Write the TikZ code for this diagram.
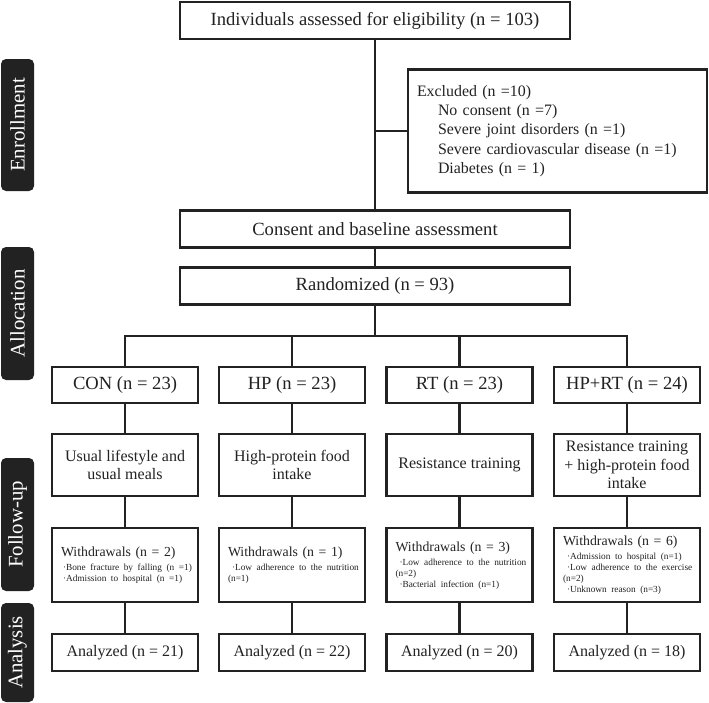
\documentclass[tikz,border=0pt]{standalone}
\usepackage{fontspec}
\setmainfont{Liberation Serif}
\usetikzlibrary{positioning}

\definecolor{ink}{HTML}{222222}

\newcommand{\noteline}[1]{\mbox{\fontsize{9.3}{11}\selectfont #1}}

\begin{document}
\begin{tikzpicture}[x=1pt, y=-1pt, line width=2.1pt, draw=ink, text=ink,
    box/.style={draw=ink, fill=white, line width=2.1pt, inner sep=0pt, minimum width=146pt, align=center, font=\fontsize{18.6}{20}\selectfont},
    wide/.style={minimum width=390pt, minimum height=37pt},
    group/.style={minimum height=36pt},
    plan/.style={minimum height=62pt, font=\fontsize{16}{18.5}\selectfont},
    result/.style={minimum height=37pt, font=\fontsize{16}{18}\selectfont},
    detail/.style={minimum height=74pt, align=left, text width=128pt, font=\fontsize{13.8}{11}\selectfont},
    phase/.style={fill=ink, text=white, rounded corners=5pt, minimum height=33pt, inner sep=0pt, rotate=90, font=\fontsize{20.8}{22}\selectfont}]
    \useasboundingbox (0,0) rectangle (709,702);

    % Side labels {enrollment, allocation, follow-up, analysis}
    \node [phase, minimum width=132pt]		(enrol) 	at (17.5,125)		{Enrollment};
    \node [phase, minimum width=133pt]		(alloc) 	at (17.5,313.5)		{Allocation};
    \node [phase, minimum width=133pt]		(follow) 	at (17.5,524.5)		{Follow-up};
    \node [phase, minimum width=99pt]		(analys) 	at (17.5,652.5)		{Analysis};

    % Nodes {assess, excl, consent, rand}
    \node [box, wide]		(assess) 	at (375,20.5)		{Individuals assessed for eligibility (n = 103)};
    \node [box, minimum width=299pt, minimum height=123pt, align=left, text width=281pt, font=\fontsize{15.9}{19.3}\selectfont]
    		(excl) 		at (557.5,131)		{Excluded (n =10)\\
    		\hspace*{21pt}No consent (n =7)\\
    		\hspace*{21pt}Severe joint disorders (n =1)\\
    		\hspace*{21pt}Severe cardiovascular disease (n =1)\\
    		\hspace*{21pt}Diabetes (n = 1)};
    \node [box, wide]		(consent) 	at (375,229)		{Consent and baseline assessment};
    \node [box, wide]		(rand) 		at (375,286)		{Randomized (n = 93)};
    \coordinate				(split) 	at (375,336);

    % Nodes {groups}
    \node [box, group]		(con) 		at (125,385)		{CON (n = 23)};
    \node [box, group]		(hp) 		at (292,385)		{HP (n = 23)};
    \node [box, group]		(rt) 		at (459.5,385)		{RT (n = 23)};
    \node [box, group]		(hprt) 		at (627,385)		{HP+RT (n = 24)};

    % Nodes {interventions}
    \node [box, plan]		(conI) 		[below=29pt of con]		{Usual lifestyle and\\usual meals};
    \node [box, plan]		(hpI) 		[below=29pt of hp]		{High-protein food\\intake};
    \node [box, plan]		(rtI) 		[below=29pt of rt]		{Resistance training};
    \node [box, plan]		(hprtI) 	[below=29pt of hprt]	{Resistance training\\+ high-protein food\\intake};

    % Nodes {withdrawals}
    \node [box, detail]		(conW) 		[below=30pt of conI]	{Withdrawals (n = 2)\\[3pt]
    		\noteline{\hspace*{2pt}·Bone fracture by falling (n =1)}\\
    		\noteline{\hspace*{2pt}·Admission to hospital (n =1)}};
    \node [box, detail]		(hpW) 		[below=30pt of hpI]		{Withdrawals (n = 1)\\[3pt]
    		\noteline{\hspace*{4pt}·Low adherence to the nutrition}\\
    		\noteline{(n=1)}};
    \node [box, detail]		(rtW) 		[below=30pt of rtI]		{Withdrawals (n = 3)\\[3pt]
    		\noteline{\hspace*{4pt}·Low adherence to the nutrition}\\
    		\noteline{(n=2)}\\
    		\noteline{\hspace*{4pt}·Bacterial infection (n=1)}};
    \node [box, detail]		(hprtW) 	[below=30pt of hprtI]	{Withdrawals (n = 6)\\[3pt]
    		\noteline{\hspace*{4pt}·Admission to hospital (n=1)}\\
    		\noteline{\hspace*{4pt}·Low adherence to the exercise}\\
    		\noteline{(n=2)}\\
    		\noteline{\hspace*{4pt}·Unknown reason (n=3)}};

    % Nodes {analyzed}
    \node [box, result]		(conA) 		[below=30pt of conW]	{Analyzed (n = 21)};
    \node [box, result]		(hpA) 		[below=30pt of hpW]		{Analyzed (n = 22)};
    \node [box, result]		(rtA) 		[below=30pt of rtW]		{Analyzed (n = 20)};
    \node [box, result]		(hprtA) 	[below=30pt of hprtW]	{Analyzed (n = 18)};

    % Paths
    \draw (assess) -- (consent);
    \draw (assess.south |- excl.west) -- (excl.west);
    \draw (consent) -- (rand);
    \draw (rand) -- (split);
    \draw (con) |- (split) -| (hprt);
    \draw (hp) -- (hp |- split);
    \draw (rt) -- (rt |- split);
    \foreach \g in {con, hp, rt, hprt} {
        \draw (\g) -- (\g I);
        \draw (\g I) -- (\g W);
        \draw (\g W) -- (\g A);
    }

\end{tikzpicture}
\end{document}
